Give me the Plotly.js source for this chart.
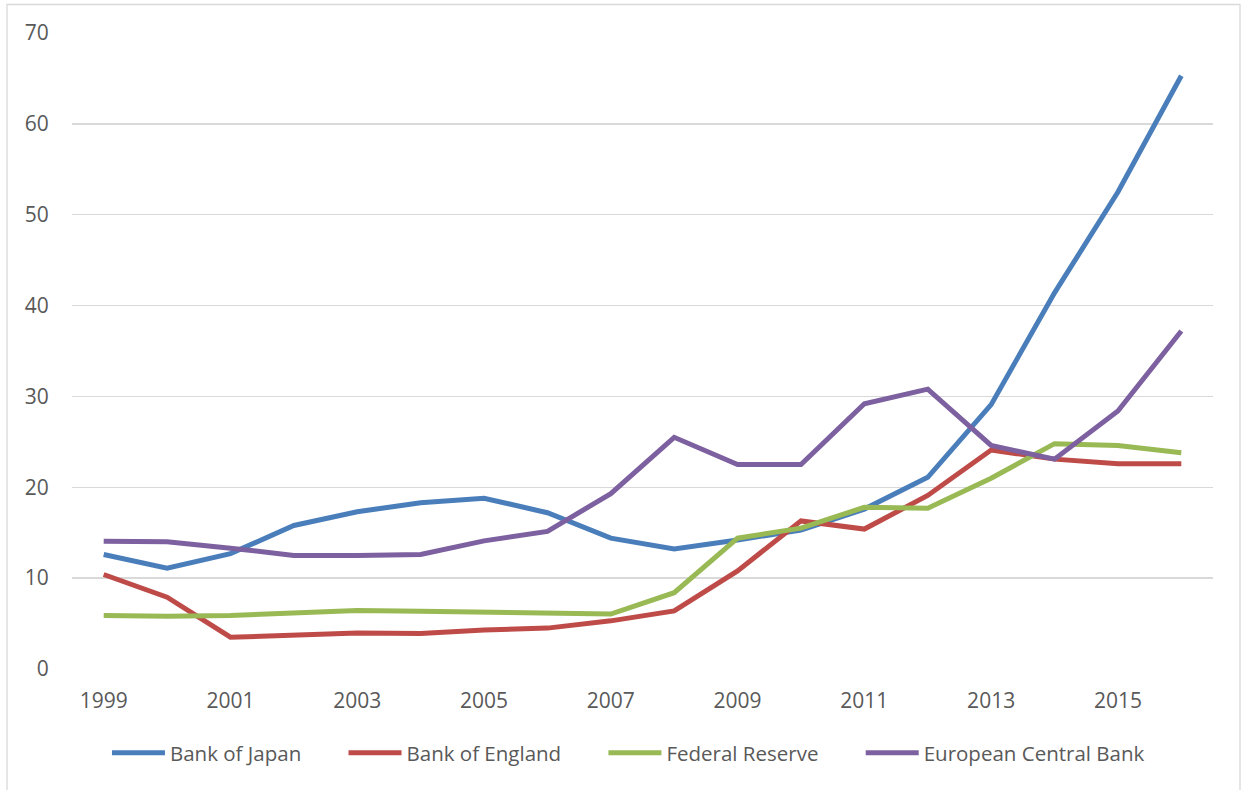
<!DOCTYPE html>
<html>
<head>
<meta charset="utf-8">
<script src="https://cdn.plot.ly/plotly-3.0.1.min.js"></script>
<style>
html,body{margin:0;padding:0;background:#fff;}
#chart{width:1244px;height:790px;}
</style>
</head>
<body>
<div id="chart"></div>
<script>
const years = [1999,2000,2001,2002,2003,2004,2005,2006,2007,2008,2009,2010,2011,2012,2013,2014,2015,2016];
const bankOfJapan = [12.6,11.1,12.7,15.8,17.3,18.3,18.8,17.2,14.4,13.2,14.2,15.3,17.6,21.1,29.1,41.4,52.5,65.3];
const bankOfEngland = [10.4,7.9,3.5,3.7,3.95,3.9,4.3,4.5,5.3,6.4,10.8,16.3,15.4,19.1,24.1,23.1,22.6,22.6];
const federalReserve = [5.9,5.8,5.9,6.2,6.45,6.35,6.25,6.1,6.05,8.4,14.4,15.5,17.8,17.7,21.0,24.8,24.6,23.8];
const ecb = [14.05,14.0,13.3,12.5,12.5,12.6,14.1,15.15,19.3,25.5,22.5,22.5,29.2,30.8,24.6,23.1,28.4,37.2];
const seriesNames = ["Bank of Japan","Bank of England","Federal Reserve","European Central Bank"];
const seriesColors = ["#4A7EBB","#BE4B48","#98B954","#7D60A0"];
const seriesData = [bankOfJapan, bankOfEngland, federalReserve, ecb];
const yTicks = [0,10,20,30,40,50,60,70];
const xTicks = years.filter(y=>y%2===1);
const legendPad = '\u00a0'.repeat(7);

const traces = seriesData.map((d,i)=>({
  x: years, y: d, type:'scatter', mode:'lines',
  name: seriesNames[i] + (i < seriesNames.length-1 ? legendPad : ''),
  line:{color: seriesColors[i], width:5, shape:'linear'}
}));

const layout = {
  width:1244, height:790,
  margin:{l:72, r:31, t:33, b:121},
  paper_bgcolor:'#fff', plot_bgcolor:'#fff',
  font:{family:'"Open Sans", sans-serif', size:20, color:'#595959'},
  showlegend:true,
  legend:{orientation:'h', x:0.4877, xanchor:'center', y:-0.132, yanchor:'middle',
          font:{size:20.5, color:'#595959'}, itemwidth:53, traceorder:'normal'},
  xaxis:{range:[1998.5,2016.5], tickmode:'array', tickvals:xTicks,
         ticktext:xTicks.map(String),
         showgrid:false, zeroline:false, showline:false,
         ticks:'outside', ticklen:13, tickcolor:'rgba(0,0,0,0)',
         tickfont:{size:21, color:'#595959'}, fixedrange:true},
  yaxis:{range:[0,70], tickvals:yTicks, showgrid:true, gridcolor:'#D9D9D9', gridwidth:1.3,
         zeroline:false, showline:false,
         ticks:'outside', ticklen:18, tickcolor:'rgba(0,0,0,0)',
         tickfont:{size:21, color:'#595959'}, fixedrange:true},
  shapes:[{type:'rect', xref:'paper', yref:'paper',
           x0:(7-72)/1141, x1:(1240-72)/1141, y0:(669-800)/636, y1:(669-4.5)/636,
           line:{color:'#D9D9D9', width:1.3}, fillcolor:'rgba(0,0,0,0)', layer:'below'}]
};
Plotly.newPlot('chart', traces, layout, {displayModeBar:false, staticPlot:true});
</script>
</body>
</html>
